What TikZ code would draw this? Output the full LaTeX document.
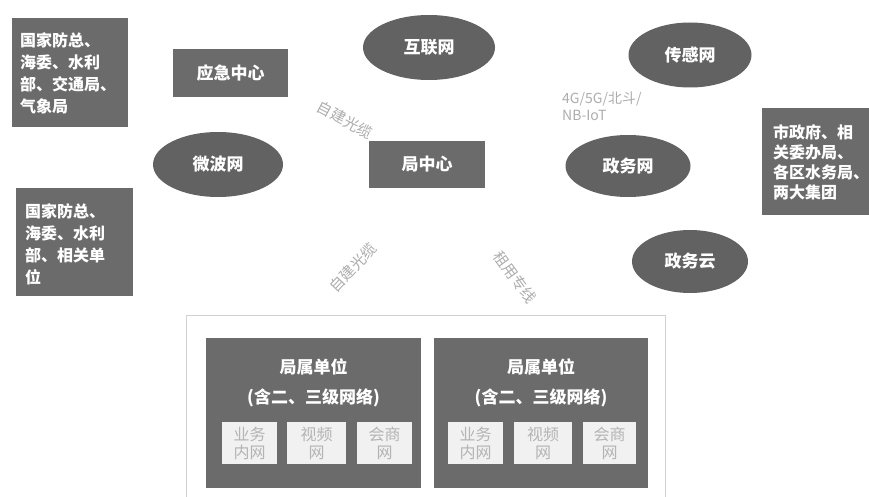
\documentclass[tikz,border=0pt]{standalone}
\usepackage{fontspec}
\setmainfont{Noto Sans CJK SC}
\usetikzlibrary{shapes.geometric}
\definecolor{boxgray}{HTML}{6B6B6B}
\definecolor{ellgray}{HTML}{626262}
\definecolor{lblgray}{HTML}{ADADAD}
\definecolor{smallfill}{HTML}{F1F1F1}
\definecolor{smalltext}{HTML}{B4B4B4}
\definecolor{framegray}{HTML}{D2D2D2}
\begin{document}
\begin{tikzpicture}[x=1pt,y=-1pt,
  darkbox/.style={rectangle, fill=boxgray, draw=none, inner sep=0pt},
  boxtext/.style={text=white, inner sep=0pt, align=left, font=\bfseries\fontsize{16}{22}\selectfont},
  titlebox/.style={rectangle, fill=boxgray, inner sep=0pt, text=white, font=\bfseries\fontsize{17}{20}\selectfont},
  net/.style={ellipse, fill=ellgray, inner sep=0pt, text=white, font=\bfseries\fontsize{17}{20}\selectfont},
  linklabel/.style={text=lblgray, inner sep=0pt, font=\fontsize{15}{17}\selectfont},
  unitbox/.style={rectangle, fill=boxgray, inner sep=0pt},
  unittext/.style={text=white, inner sep=0pt, align=center, font=\bfseries\fontsize{17}{30}\selectfont},
  subnet/.style={rectangle, fill=smallfill, inner sep=0pt, text=smalltext, align=center, minimum height=42pt, font=\fontsize{16}{18}\selectfont}
]
\useasboundingbox (0,0) rectangle (869,497);
\fill[white] (0,0) rectangle (869,497);

% left boxes
\node[darkbox, minimum width=116pt, minimum height=109pt] (orgA) at (70,72.5) {};
\node[boxtext, anchor=west] (orgAtext) at (20,73.5) {国家防总、\\海委、水利\\部、交通局、\\气象局};
\node[darkbox, minimum width=117pt, minimum height=108pt] (orgB) at (74.5,242) {};
\node[boxtext, anchor=west] (orgBtext) at (25,244.5) {国家防总、\\海委、水利\\部、相关单\\位};

% right box
\node[darkbox, minimum width=107pt, minimum height=107pt] (orgC) at (815.5,161.5) {};
\node[boxtext, anchor=west, font=\bfseries\fontsize{16}{20}\selectfont] (orgCtext) at (773,162) {市政府、相\\关委办局、\\各区水务局、\\两大集团};

% centres
\node[titlebox, minimum width=115pt, minimum height=48pt] (emerg) at (230.5,73) {应急中心};
\node[titlebox, minimum width=116pt, minimum height=47pt] (bureau) at (427,164.5) {局中心};

% networks
\node[net, minimum width=132pt, minimum height=65pt] (internet) at (429,47.5) {互联网};
\node[net, minimum width=130pt, minimum height=65pt] (microwave) at (218,164.5) {微波网};
\node[net, minimum width=123pt, minimum height=65pt] (sensor) at (690,55) {传感网};
\node[net, minimum width=125pt, minimum height=62pt] (govnet) at (628,166) {政务网};
\node[net, minimum width=116pt, minimum height=63pt] (govcloud) at (690,261.5) {政务云};

% link labels
\node[linklabel, rotate=-28] (fiberA) at (345,120) {自建光缆};
\node[linklabel, rotate=47] (fiberB) at (353,268) {自建光缆};
\node[linklabel, rotate=-54] (lease) at (515,277) {租用专线};
\node[linklabel, anchor=north west, align=left, font=\fontsize{14}{17}\selectfont] (wireless) at (562,92) {4G/5G/北斗/\\NB-IoT};

% container
\draw[framegray, line width=1pt] (186,497) -- (186,315) -- (665,315) -- (665,497);

% units
\node[unitbox, minimum width=215pt, minimum height=150pt] (unitA) at (313.5,413) {};
\node[unittext] (unitAtext) at (313.5,383) {局属单位\\(含二、三级网络)};
\node[subnet, minimum width=55pt] (bizA) at (249.5,443) {业务\\内网};
\node[subnet, minimum width=59pt] (vidA) at (316.5,443) {视频\\网};
\node[subnet, minimum width=55pt] (conA) at (384.5,443) {会商\\网};

\node[unitbox, minimum width=214pt, minimum height=150pt] (unitB) at (541,413) {};
\node[unittext] (unitBtext) at (541,383) {局属单位\\(含二、三级网络)};
\node[subnet, minimum width=55pt] (bizB) at (475.5,443) {业务\\内网};
\node[subnet, minimum width=58pt] (vidB) at (543,443) {视频\\网};
\node[subnet, minimum width=53pt] (conB) at (609.5,443) {会商\\网};
\end{tikzpicture}
\end{document}
